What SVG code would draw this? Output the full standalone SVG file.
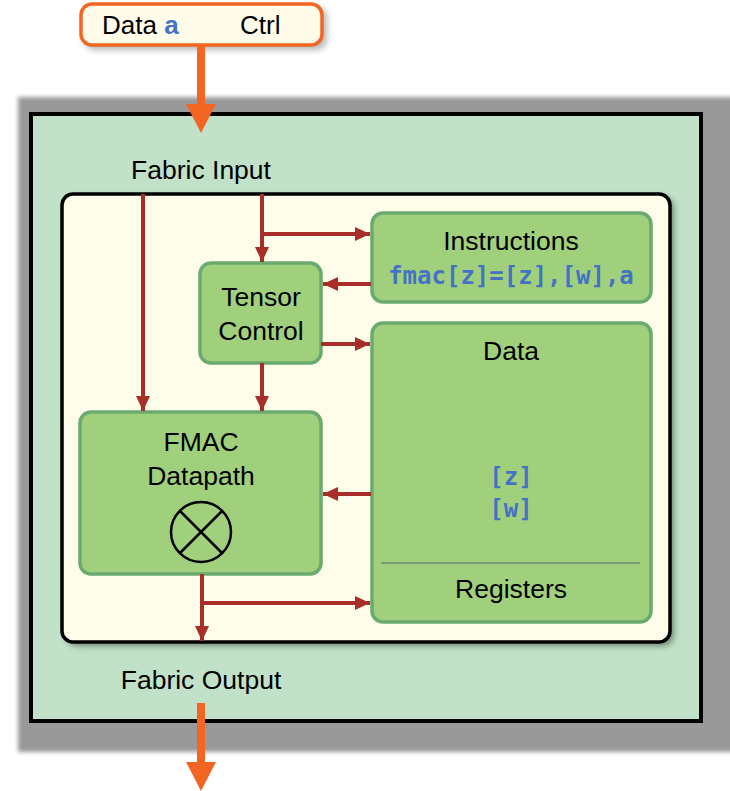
<svg xmlns="http://www.w3.org/2000/svg" width="730" height="791" viewBox="0 0 730 791">
<defs>
<style>
.t{font-family:"Liberation Sans","Open Sans",Arial,sans-serif;font-size:26.5px;fill:#000;text-anchor:middle}
.m{font-family:"DejaVu Sans Mono","Liberation Mono",monospace;font-size:24px;font-weight:bold;fill:#4472C4;text-anchor:middle}
.box{fill:#A1D07D;stroke:#6BAA6F;stroke-width:3.5}
.red{stroke:#A82E29;stroke-width:4;fill:none}
</style>
<marker id="ah" markerUnits="userSpaceOnUse" markerWidth="16" markerHeight="16" refX="15" refY="8" orient="auto" viewBox="0 0 16 16">
<path d="M0,1 L15,8 L0,15 Z" fill="#A82E29"/>
</marker>
<filter id="blur" x="-10%" y="-10%" width="120%" height="120%"><feGaussianBlur stdDeviation="3"/></filter>
<filter id="blur2" x="-10%" y="-10%" width="120%" height="120%"><feGaussianBlur stdDeviation="2"/></filter>
</defs>

<g id="frame">
<rect x="18" y="97" width="722" height="655" fill="#999999" filter="url(#blur2)"/>
<rect x="31" y="114" width="670" height="607" fill="#C1E2C8" stroke="#000" stroke-width="4"/>
</g>

<g id="input">
<rect x="84" y="7" width="243" height="43" rx="11" fill="#888" opacity="0.6" filter="url(#blur)"/>
<rect x="81" y="4" width="241" height="41" rx="11" fill="#FEFCE9" stroke="#F26522" stroke-width="3.5"/>
<text x="102" y="34" font-family="Liberation Sans,Open Sans,sans-serif" font-size="26">Data <tspan fill="#4472C4" font-weight="bold">a</tspan></text>
<text x="240" y="34" font-family="Liberation Sans,Open Sans,sans-serif" font-size="26">Ctrl</text>
</g>

<g id="orange-arrows">
<rect x="197" y="46" width="8" height="60" fill="#F26522"/>
<path d="M186,104 L216,104 L201,133 Z" fill="#F26522"/>
<rect x="197" y="703" width="8" height="62" fill="#F26522"/>
<path d="M186,762 L216,762 L201,791 Z" fill="#F26522"/>
</g>

<text class="t" x="201" y="179">Fabric Input</text>
<text class="t" x="201" y="689">Fabric Output</text>

<g id="core">
<rect x="66" y="197" width="608" height="449" rx="11" fill="#51614F" opacity="0.7" filter="url(#blur)"/>
<rect x="62" y="194" width="608" height="448" rx="11" fill="#FEFDEA" stroke="#000" stroke-width="3.5"/>
</g>

<g id="instructions">
<rect class="box" x="372" y="213" width="279" height="89" rx="11"/>
<text class="t" x="511" y="250">Instructions</text>
<text class="m" x="511" y="284">fmac[z]=[z],[w],a</text>
</g>

<g id="tensor-control">
<rect class="box" x="200" y="263" width="121" height="100" rx="11"/>
<text class="t" x="261" y="306">Tensor</text>
<text class="t" x="261" y="340">Control</text>
</g>

<g id="data">
<rect class="box" x="372" y="323" width="279" height="299" rx="11"/>
<text class="t" x="511" y="360">Data</text>
<text class="m" x="511" y="485">[z]</text>
<text class="m" x="511" y="517">[w]</text>
<line x1="381" y1="563" x2="640" y2="563" stroke="#7A9A7A" stroke-width="2"/>
<text class="t" x="511" y="598">Registers</text>
</g>

<g id="fmac">
<rect class="box" x="80" y="412" width="241" height="162" rx="11"/>
<text class="t" x="201" y="451">FMAC</text>
<text class="t" x="201" y="485">Datapath</text>
<circle cx="201" cy="532" r="30" fill="none" stroke="#000" stroke-width="2.5"/>
<line x1="180" y1="511" x2="222" y2="553" stroke="#000" stroke-width="2.5"/>
<line x1="222" y1="511" x2="180" y2="553" stroke="#000" stroke-width="2.5"/>
</g>

<g id="connectors">
<line class="red" x1="143" y1="194" x2="143" y2="411" marker-end="url(#ah)"/>
<line class="red" x1="262" y1="194" x2="262" y2="262" marker-end="url(#ah)"/>
<line class="red" x1="262" y1="234" x2="370" y2="234" marker-end="url(#ah)"/>
<line class="red" x1="371" y1="284" x2="323" y2="284" marker-end="url(#ah)"/>
<line class="red" x1="321" y1="344" x2="370" y2="344" marker-end="url(#ah)"/>
<line class="red" x1="262" y1="363" x2="262" y2="411" marker-end="url(#ah)"/>
<line class="red" x1="371" y1="494" x2="323" y2="494" marker-end="url(#ah)"/>
<line class="red" x1="202" y1="574" x2="202" y2="641" marker-end="url(#ah)"/>
<line class="red" x1="202" y1="603" x2="370" y2="603" marker-end="url(#ah)"/>
</g>
</svg>
